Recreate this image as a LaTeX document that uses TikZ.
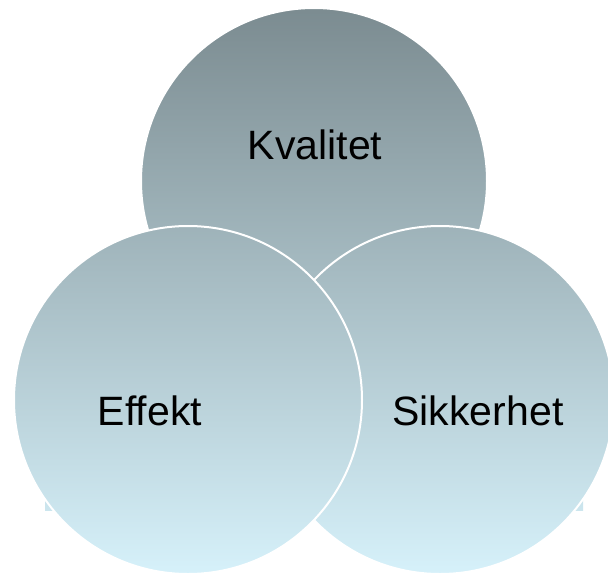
\documentclass[tikz,border=0pt]{standalone}
\usepackage{fontspec}
\setmainfont{Liberation Sans}
\definecolor{gtop}{RGB}{122,138,143}
\definecolor{gbot}{RGB}{214,241,250}
\tikzset{
  gradfill/.style={top color=gtop, bottom color=gbot},
  ring/.style={draw=white, line width=2pt},
  lbl/.style={anchor=base, inner sep=0pt, font=\fontsize{41}{49}\selectfont, text=black}
}
\begin{document}
\begin{tikzpicture}[x=1pt,y=-1pt]
\useasboundingbox (0,0) rectangle (608,574);
\coordinate (ctop) at (314,181);
\coordinate (cright) at (440,400);
\coordinate (cleft) at (188,400);
% background rectangle (only its lower corners show)
\begin{scope}
\clip (45,330) rectangle (583,510);
\shade[gradfill] (0,0) rectangle (608,574);
\end{scope}
% top circle
\begin{scope}
\clip (ctop) circle[radius=173];
\shade[gradfill] (0,0) rectangle (608,574);
\end{scope}
\draw[ring] (ctop) circle[radius=173];
% right circle
\begin{scope}
\clip (cright) circle[radius=174];
\shade[gradfill] (0,0) rectangle (608,574);
\end{scope}
\draw[ring] (cright) circle[radius=174];
% left circle
\begin{scope}
\clip (cleft) circle[radius=174];
\shade[gradfill] (0,0) rectangle (608,574);
\end{scope}
\draw[ring] (cleft) circle[radius=174];
% labels
\node[lbl] (kval) at (315,159) {Kvalitet};
\node[lbl] (eff) at (150,425) {Effekt};
\node[lbl] (sikk) at (478,425) {Sikkerhet};
\end{tikzpicture}
\end{document}
